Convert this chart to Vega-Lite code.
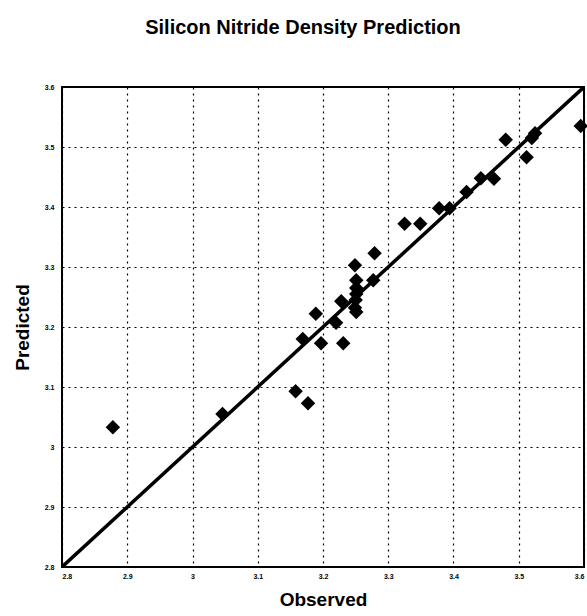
{
  "$schema": "https://vega.github.io/schema/vega-lite/v6.json",
  "width": 522,
  "height": 480,
  "autosize": {"type": "none"},
  "padding": {"left": 62, "top": 87, "right": 3, "bottom": 49},
  "background": "white",
  "title": {
    "text": "Silicon Nitride Density Prediction",
    "font": "Liberation Sans",
    "fontSize": 20,
    "fontWeight": "bold",
    "color": "black",
    "anchor": "middle",
    "dx": -20,
    "offset": 45
  },
  "config": {
    "view": {"stroke": "black", "strokeWidth": 2},
    "axis": {
      "grid": true,
      "gridColor": "black",
      "gridDash": [2, 4],
      "gridWidth": 1.2,
      "gridOpacity": 1,
      "domain": false,
      "ticks": false,
      "labelFont": "Liberation Sans",
      "labelFontSize": 7,
      "labelFontWeight": "bold",
      "labelColor": "black",
      "titleFont": "Liberation Sans",
      "titleFontSize": 19,
      "titleFontWeight": "bold",
      "titleColor": "black"
    }
  },
  "datasets": {
    "points": [
      {"observed": 2.878, "predicted": 3.033},
      {"observed": 3.046, "predicted": 3.055},
      {"observed": 3.158, "predicted": 3.093},
      {"observed": 3.177, "predicted": 3.073},
      {"observed": 3.169, "predicted": 3.18},
      {"observed": 3.197, "predicted": 3.173},
      {"observed": 3.231, "predicted": 3.173},
      {"observed": 3.189, "predicted": 3.222},
      {"observed": 3.22, "predicted": 3.207},
      {"observed": 3.228, "predicted": 3.243},
      {"observed": 3.251, "predicted": 3.225},
      {"observed": 3.249, "predicted": 3.232},
      {"observed": 3.25, "predicted": 3.245},
      {"observed": 3.251, "predicted": 3.255},
      {"observed": 3.251, "predicted": 3.265},
      {"observed": 3.251, "predicted": 3.278},
      {"observed": 3.249, "predicted": 3.303},
      {"observed": 3.277, "predicted": 3.278},
      {"observed": 3.279, "predicted": 3.323},
      {"observed": 3.325, "predicted": 3.372},
      {"observed": 3.349, "predicted": 3.372},
      {"observed": 3.378, "predicted": 3.398},
      {"observed": 3.394, "predicted": 3.398},
      {"observed": 3.42, "predicted": 3.425},
      {"observed": 3.442, "predicted": 3.448},
      {"observed": 3.462, "predicted": 3.447},
      {"observed": 3.48, "predicted": 3.512},
      {"observed": 3.512, "predicted": 3.483},
      {"observed": 3.52, "predicted": 3.515},
      {"observed": 3.525, "predicted": 3.523},
      {"observed": 3.595, "predicted": 3.535}
    ],
    "diag": [
      {"observed": 2.8, "predicted": 2.8},
      {"observed": 3.6, "predicted": 3.6}
    ]
  },
  "encoding": {
    "x": {
      "field": "observed",
      "type": "quantitative",
      "scale": {"domain": [2.8, 3.6], "nice": false, "zero": false},
      "axis": {
        "title": "Observed",
        "values": [2.8, 2.9, 3.0, 3.1, 3.2, 3.3, 3.4, 3.5, 3.6],
        "labelPadding": 5,
        "titlePadding": 11,
        "labelExpr": "datum.value == 3 ? '3' : format(datum.value, '.1f')"
      }
    },
    "y": {
      "field": "predicted",
      "type": "quantitative",
      "scale": {"domain": [2.8, 3.6], "nice": false, "zero": false},
      "axis": {
        "title": "Predicted",
        "values": [2.8, 2.9, 3.0, 3.1, 3.2, 3.3, 3.4, 3.5, 3.6],
        "labelPadding": 8,
        "titlePadding": 12,
        "labelExpr": "datum.value == 3 ? '3' : format(datum.value, '.1f')"
      }
    }
  },
  "layer": [
    {
      "data": {"name": "diag"},
      "mark": {"type": "line", "color": "black", "strokeWidth": 3.5, "clip": true}
    },
    {
      "data": {"name": "points"},
      "mark": {"type": "point", "shape": "diamond", "filled": true, "color": "black", "opacity": 1, "size": 210}
    }
  ]
}
